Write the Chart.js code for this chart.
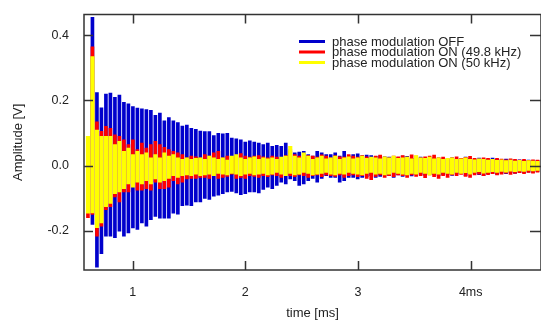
<!DOCTYPE html>
<html>
<head>
<meta charset="utf-8">
<script src="https://cdn.jsdelivr.net/npm/chart.js@4.4.0/dist/chart.umd.min.js"></script>
<style>
  html, body { margin: 0; padding: 0; background: #fff; }
  #wrap { width: 541px; height: 322px; }
</style>
</head>
<body>
<div id="wrap"><canvas id="chart"></canvas></div>
<script>
// one burst every ~0.04 ms, first one at 0.603 ms
const startTime = 0.603;
const burstStep = 0.0399;

const seriesNames = ['phase modulation OFF', 'phase modulation ON (49.8 kHz)', 'phase modulation ON (50 kHz)'];
const seriesColors = ['#0000cc', '#ff0000', '#ffff00'];

const xTicks = [1, 2, 3, 4];
const yTicks = [-0.2, 0.0, 0.2, 0.4];

// peak values of every burst (V)
const offHigh = [0.06, 0.454, 0.224, 0.177, 0.219, 0.222, 0.209, 0.216, 0.194, 0.189,
  0.181, 0.176, 0.174, 0.172, 0.169, 0.154, 0.161, 0.137, 0.147, 0.137,
  0.132, 0.121, 0.124, 0.114, 0.111, 0.106, 0.104, 0.104, 0.092, 0.099,
  0.097, 0.099, 0.084, 0.082, 0.079, 0.072, 0.076, 0.072, 0.069, 0.064,
  0.069, 0.059, 0.062, 0.059, 0.069, 0.049, 0.039, 0.041, 0.044, 0.034,
  0.029, 0.044, 0.039, 0.034, 0.034, 0.039, 0.029, 0.044, 0.029, 0.034,
  0.036, 0.030, 0.032, 0.031, 0.028, 0.030, 0.027, 0.026, 0.027, 0.024,
  0.029, 0.028, 0.022, 0.024, 0.026, 0.022, 0.021, 0.024, 0.023, 0.020,
  0.021, 0.024, 0.020, 0.022, 0.026, 0.022, 0.020, 0.023, 0.021, 0.019,
  0.023, 0.020, 0.018, 0.020, 0.019, 0.017, 0.018, 0.016, 0.017, 0.015, 0.016];
const offLow = [-0.12, -0.18, -0.311, -0.27, -0.216, -0.216, -0.221, -0.201, -0.216, -0.206,
  -0.191, -0.196, -0.176, -0.186, -0.166, -0.156, -0.161, -0.161, -0.161, -0.146,
  -0.149, -0.123, -0.121, -0.123, -0.111, -0.111, -0.101, -0.104, -0.094, -0.091,
  -0.086, -0.081, -0.079, -0.084, -0.089, -0.086, -0.081, -0.081, -0.084, -0.073,
  -0.066, -0.071, -0.061, -0.051, -0.056, -0.041, -0.046, -0.061, -0.056, -0.046,
  -0.039, -0.051, -0.039, -0.031, -0.036, -0.036, -0.051, -0.046, -0.036, -0.036,
  -0.041, -0.036, -0.034, -0.031, -0.036, -0.033, -0.030, -0.031, -0.036, -0.029,
  -0.033, -0.030, -0.032, -0.028, -0.027, -0.030, -0.026, -0.029, -0.031, -0.028,
  -0.027, -0.030, -0.026, -0.025, -0.031, -0.027, -0.024, -0.028, -0.031, -0.025,
  -0.024, -0.027, -0.023, -0.025, -0.022, -0.024, -0.021, -0.022, -0.020, -0.021, -0.019];

const on498High = [0.08, 0.364, 0.134, 0.105, 0.12, 0.114, 0.094, 0.09, 0.079, 0.064,
  0.079, 0.049, 0.069, 0.054, 0.064, 0.074, 0.064, 0.056, 0.049, 0.044,
  0.039, 0.034, 0.024, 0.029, 0.027, 0.024, 0.034, 0.029, 0.039, 0.044,
  0.024, 0.029, 0.026, 0.031, 0.037, 0.029, 0.026, 0.029, 0.031, 0.027,
  0.024, 0.029, 0.026, 0.022, 0.031, 0.044, 0.034, 0.029, 0.026, 0.031,
  0.029, 0.026, 0.033, 0.029, 0.024, 0.031, 0.027, 0.026, 0.034, 0.029,
  0.026, 0.031, 0.027, 0.024, 0.029, 0.032, 0.026, 0.024, 0.029, 0.027,
  0.031, 0.026, 0.033, 0.029, 0.024, 0.027, 0.029, 0.032, 0.024, 0.026,
  0.021, 0.024, 0.027, 0.022, 0.025, 0.028, 0.022, 0.020, 0.024, 0.022,
  0.019, 0.022, 0.020, 0.018, 0.021, 0.019, 0.017, 0.019, 0.016, 0.018, 0.017];
const on498Low = [-0.16, -0.15, -0.216, -0.186, -0.135, -0.126, -0.096, -0.111, -0.081, -0.081,
  -0.06, -0.075, -0.075, -0.071, -0.075, -0.051, -0.071, -0.071, -0.066, -0.046,
  -0.056, -0.051, -0.041, -0.039, -0.039, -0.036, -0.036, -0.039, -0.031, -0.039,
  -0.036, -0.033, -0.026, -0.039, -0.036, -0.039, -0.031, -0.033, -0.036, -0.031,
  -0.034, -0.029, -0.031, -0.036, -0.029, -0.031, -0.034, -0.029, -0.031, -0.036,
  -0.031, -0.029, -0.034, -0.029, -0.031, -0.033, -0.029, -0.036, -0.031, -0.029,
  -0.034, -0.031, -0.039, -0.043, -0.033, -0.029, -0.036, -0.031, -0.034, -0.029,
  -0.031, -0.036, -0.029, -0.033, -0.031, -0.037, -0.029, -0.034, -0.039, -0.031,
  -0.036, -0.029, -0.031, -0.027, -0.033, -0.036, -0.029, -0.026, -0.031, -0.028,
  -0.025, -0.029, -0.026, -0.023, -0.027, -0.024, -0.022, -0.025, -0.021, -0.023, -0.020];

const on50High = [0.09, 0.334, 0.109, 0.09, 0.09, 0.09, 0.064, 0.074, 0.044, 0.054,
  0.034, 0.044, 0.034, 0.039, 0.024, 0.034, 0.024, 0.039, 0.029, 0.034,
  0.024, 0.019, 0.024, 0.019, 0.022, 0.024, 0.019, 0.029, 0.024, 0.019,
  0.024, 0.017, 0.029, 0.034, 0.024, 0.019, 0.024, 0.027, 0.019, 0.024,
  0.021, 0.024, 0.019, 0.026, 0.029, 0.059, 0.029, 0.024, 0.039, 0.029,
  0.019, 0.024, 0.029, 0.021, 0.024, 0.029, 0.019, 0.024, 0.027, 0.021,
  0.024, 0.029, 0.022, 0.026, 0.024, 0.021, 0.027, 0.024, 0.029, 0.022,
  0.024, 0.026, 0.021, 0.031, 0.024, 0.022, 0.026, 0.021, 0.024, 0.019,
  0.022, 0.024, 0.019, 0.021, 0.024, 0.019, 0.018, 0.021, 0.019, 0.017,
  0.019, 0.016, 0.018, 0.015, 0.017, 0.014, 0.016, 0.013, 0.015, 0.014, 0.013];
const on50Low = [-0.146, -0.145, -0.19, -0.176, -0.126, -0.116, -0.086, -0.081, -0.071, -0.056,
  -0.066, -0.051, -0.056, -0.046, -0.056, -0.041, -0.051, -0.046, -0.039, -0.031,
  -0.036, -0.031, -0.029, -0.031, -0.026, -0.031, -0.029, -0.026, -0.031, -0.024,
  -0.026, -0.029, -0.024, -0.026, -0.031, -0.026, -0.024, -0.029, -0.026, -0.024,
  -0.029, -0.026, -0.021, -0.026, -0.031, -0.024, -0.029, -0.026, -0.021, -0.024,
  -0.029, -0.026, -0.024, -0.021, -0.026, -0.029, -0.024, -0.026, -0.021, -0.024,
  -0.026, -0.029, -0.024, -0.021, -0.026, -0.024, -0.029, -0.026, -0.021, -0.024,
  -0.026, -0.029, -0.024, -0.026, -0.021, -0.024, -0.029, -0.024, -0.026, -0.021,
  -0.024, -0.026, -0.021, -0.024, -0.022, -0.026, -0.021, -0.019, -0.023, -0.021,
  -0.019, -0.021, -0.018, -0.020, -0.017, -0.019, -0.016, -0.018, -0.015, -0.016, -0.015];

function bursts(high, low) {
    return high.map((v, i) => ({ x: startTime + i * burstStep, y: [low[i], v] }));
}

const fontFamily = '"Liberation Sans", Arial, sans-serif';
Chart.defaults.font.family = fontFamily;
Chart.defaults.font.size = 12.5;
Chart.defaults.color = '#222';

// box round the plot, inward ticks and the legend in the upper right
const framePlugin = {
    id: 'frame',
    afterDatasetsDraw(chart) {
        const ctx = chart.ctx;
        const a = chart.chartArea;
        const x = chart.scales.x, y = chart.scales.y;
        ctx.save();
        ctx.strokeStyle = '#333';
        ctx.lineWidth = 1.5;
        ctx.strokeRect(a.left, a.top, a.right - a.left, a.bottom - a.top);
        ctx.beginPath();
        xTicks.forEach(t => {
            const px = Math.round(x.getPixelForValue(t)) + 0.5;
            ctx.moveTo(px, a.bottom); ctx.lineTo(px, a.bottom - 9);
            ctx.moveTo(px, a.top); ctx.lineTo(px, a.top + 9);
        });
        yTicks.forEach(t => {
            const py = Math.round(y.getPixelForValue(t)) + 0.5;
            ctx.moveTo(a.left, py); ctx.lineTo(a.left + 9, py);
            ctx.moveTo(a.right, py); ctx.lineTo(a.right - 11, py);
        });
        ctx.stroke();

        ctx.font = '13px ' + fontFamily;
        ctx.textBaseline = 'middle';
        ctx.lineWidth = 3;
        seriesNames.forEach((name, i) => {
            const ly = 41.5 + i * 10.5;
            ctx.strokeStyle = seriesColors[i];
            ctx.beginPath();
            ctx.moveTo(299, ly); ctx.lineTo(325, ly);
            ctx.stroke();
            ctx.fillStyle = '#222';
            ctx.fillText(name, 332, ly + 0.5);
        });
        ctx.restore();
    }
};

new Chart(document.getElementById('chart'), {
    type: 'bar',
    data: {
        datasets: [
            { label: seriesNames[0], data: bursts(offHigh, offLow), backgroundColor: seriesColors[0], barThickness: 3, order: 3 },
            { label: seriesNames[1], data: bursts(on498High, on498Low), backgroundColor: seriesColors[1], barThickness: 3, order: 2 },
            { label: seriesNames[2], data: bursts(on50High, on50Low), backgroundColor: seriesColors[2], barThickness: 3.5, order: 1 }
        ]
    },
    options: {
        responsive: true,
        maintainAspectRatio: false,
        animation: false,
        layout: { padding: { top: 9, left: 0, right: 0, bottom: 0 } },
        datasets: { bar: { grouped: false, borderWidth: 0 } },
        plugins: { legend: { display: false }, tooltip: { enabled: false } },
        scales: {
            x: {
                type: 'linear',
                offset: false,
                min: 0.568,
                max: 4.624,
                grid: { display: false },
                border: { display: false },
                afterBuildTicks: s => { s.ticks = xTicks.map(v => ({ value: v })); },
                afterFit: s => { s.height = 52; },
                ticks: {
                    padding: 7,
                    maxRotation: 0,
                    callback: v => v === 4 ? '4ms' : String(v)
                },
                title: { display: true, text: 'time [ms]', font: { size: 13 }, padding: { top: 0, bottom: 1 } }
            },
            y: {
                min: -0.32,
                max: 0.463,
                grid: { display: false },
                border: { display: false },
                afterBuildTicks: s => { s.ticks = yTicks.map(v => ({ value: v })); },
                afterFit: s => { s.width = 84; },
                ticks: {
                    padding: 7,
                    callback: v => v.toFixed(1)
                },
                title: { display: true, text: 'Amplitude [V]', font: { size: 13 }, padding: { top: 11, bottom: 0 } }
            }
        }
    },
    plugins: [framePlugin]
});
</script>
</body>
</html>
